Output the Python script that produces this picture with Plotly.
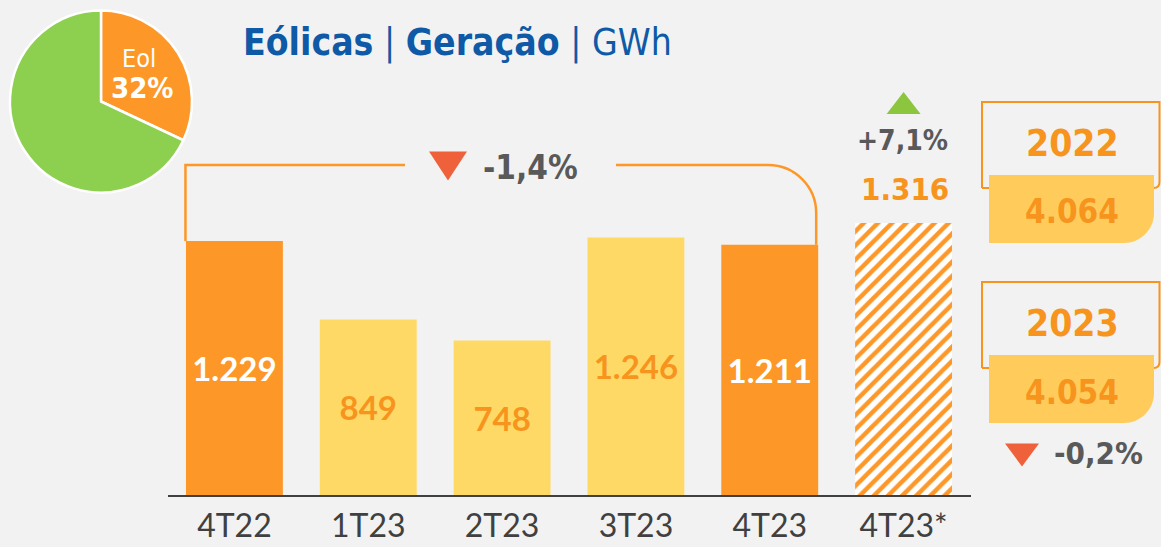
import plotly.graph_objects as go

# ---------------- data ----------------
categories = ["4T22", "1T23", "2T23", "3T23", "4T23", "4T23*"]
values = [1229, 849, 748, 1246, 1211, 1316]
years = ["2022", "2023"]
year_totals = [4064, 4054]
var_quarter = -1.4      # 4T23 vs 4T22
var_projected = 7.1     # 4T23* vs 4T22
var_year = -0.2         # 2023 vs 2022
pie_labels = ["Eol", "Outros"]
pie_values = [32, 68]

# ---------------- styling ----------------
W, H = 1161, 547
BG = "#F2F2F2"
ORANGE = "#FD9727"
ORANGE_TXT = "#F7941D"
YELLOW = "#FFD966"
BOXFILL = "#FFCC5C"
GREEN = "#8DCF4F"
GRAY_TXT = "#595959"
BLUE = "#0E5AA7"
RED = "#EF613B"
TAHOMA = "DejaVu Sans Condensed, DejaVu Sans, sans-serif"
CALIBRI = "Lato, Open Sans, sans-serif"

# plot-area geometry (pixels)
X0, X1 = 167.5, 970.5
Y_BASE = 495.0
PX_PER_UNIT = 0.2067
YMAX = Y_BASE / PX_PER_UNIT
STEP = (X1 - X0) / len(categories)
BARGAP = 0.276


def fmt(v):
    return f"{v:,}".replace(",", ".")


def pct(v):
    s = f"{v:+.1f}".replace(".", ",")
    return s + "%"


def xpx(i):
    return X0 + (i + 0.5) * STEP


def ypx(v):
    return Y_BASE - v * PX_PER_UNIT


def px(x):
    return x / W


def py(y):
    return 1 - y / H


def path(points_cmds):
    out = []
    for cmd in points_cmds:
        c = cmd[0]
        nums = cmd[1:]
        pts = []
        for k in range(0, len(nums), 2):
            pts.append(f"{px(nums[k]):.6f},{py(nums[k + 1]):.6f}")
        out.append(c + " " + " ".join(pts))
    return " ".join(out)


bar_colors = [ORANGE, YELLOW, YELLOW, YELLOW, ORANGE]
text_colors = ["white", ORANGE_TXT, ORANGE_TXT, ORANGE_TXT, "white"]

fig = go.Figure()

fig.add_trace(go.Bar(
    x=categories[:5], y=values[:5],
    marker=dict(color=bar_colors, line=dict(width=0)),
    text=[fmt(v) for v in values[:5]], textposition="inside", insidetextanchor="middle",
    textangle=0, constraintext="none",
    textfont=dict(family=CALIBRI, size=33, color=text_colors, weight="bold"),
    hoverinfo="skip", showlegend=False,
))
fig.add_trace(go.Bar(
    x=categories[5:], y=values[5:],
    marker=dict(color="white", line=dict(width=0),
                pattern=dict(shape="/", fgcolor=ORANGE, fgopacity=1,
                             size=10, solidity=0.45, fillmode="overlay")),
    hoverinfo="skip", showlegend=False,
))

fig.add_trace(go.Pie(
    labels=pie_labels, values=pie_values, sort=False, direction="clockwise",
    rotation=0, marker=dict(colors=[ORANGE, GREEN], line=dict(color="white", width=2.5)),
    textinfo="none", hoverinfo="skip", showlegend=False,
    domain=dict(x=[px(10), px(192)], y=[py(193), py(10)]),
))

shapes = []
annotations = []

# bracket from 4T22 to 4T23
LW = 2.5
bx_l = xpx(0) - STEP * (1 - BARGAP) / 2 - 0.5
bx_r = xpx(4) + STEP * (1 - BARGAP) / 2 - 2
by = 165
r = 48
shapes.append(dict(type="path", xref="paper", yref="paper",
                   path=path([("M", bx_l, ypx(values[0])), ("L", bx_l, by), ("L", 405, by)]),
                   line=dict(color=ORANGE, width=LW)))
shapes.append(dict(type="path", xref="paper", yref="paper",
                   path=path([("M", 616, by), ("L", bx_r - r, by),
                              ("C", bx_r - r * 0.45, by, bx_r, by + r * 0.45, bx_r, by + r),
                              ("L", bx_r, ypx(values[4]))]),
                   line=dict(color=ORANGE, width=LW)))


# triangles
def tri_down(cx, cy, w, h, color):
    return dict(type="path", xref="paper", yref="paper",
                path=path([("M", cx - w / 2, cy - h / 2), ("L", cx + w / 2, cy - h / 2),
                           ("L", cx, cy + h / 2)]) + " Z",
                fillcolor=color, line=dict(width=0))


def tri_up(cx, cy, w, h, color):
    return dict(type="path", xref="paper", yref="paper",
                path=path([("M", cx - w / 2, cy + h / 2), ("L", cx + w / 2, cy + h / 2),
                           ("L", cx, cy - h / 2)]) + " Z",
                fillcolor=color, line=dict(width=0))


shapes.append(tri_down(448, 166, 38, 29, RED))
shapes.append(tri_up(xpx(5), 103, 34, 22, "#8CC63F"))
shapes.append(tri_down(1022, 455, 34, 23, RED))

annotations.append(dict(x=px(530), y=py(167), xref="paper", yref="paper",
                        text=f"<b>{pct(var_quarter)}</b>", showarrow=False,
                        font=dict(family=TAHOMA, size=33, color=GRAY_TXT),
                        xanchor="center", yanchor="middle"))
annotations.append(dict(x=px(xpx(5) - 1), y=py(141), xref="paper", yref="paper",
                        text=f"<b>{pct(var_projected)}</b>", showarrow=False,
                        font=dict(family=TAHOMA, size=28, color=GRAY_TXT),
                        xanchor="center", yanchor="middle"))
annotations.append(dict(x=px(xpx(5) + 1), y=py(189), xref="paper", yref="paper",
                        text=f"<b>{fmt(values[5])}</b>", showarrow=False,
                        font=dict(family=TAHOMA, size=31, color=ORANGE_TXT),
                        xanchor="center", yanchor="middle"))

# year boxes
for k, (yr, tot) in enumerate(zip(years, year_totals)):
    top = 102 + k * 180
    ob = top + 86
    shapes.append(dict(type="path", xref="paper", yref="paper",
                       path=path([("M", 982, ob), ("L", 982, top), ("L", 1159.5, top),
                                  ("L", 1159.5, ob - 6), ("Q", 1159.5, ob, 1153.5, ob),
                                  ("L", 982, ob)]),
                       line=dict(color=ORANGE_TXT, width=2)))
    ft, fb = top + 73, top + 141
    rr = 30
    shapes.append(dict(type="path", xref="paper", yref="paper",
                       path=path([("M", 989, ft), ("L", 1154, ft), ("L", 1154, fb - rr),
                                  ("C", 1154, fb - rr * 0.45, 1154 - rr * 0.45, fb, 1154 - rr, fb),
                                  ("L", 989, fb)]) + " Z",
                       fillcolor=BOXFILL, line=dict(width=0)))
    annotations.append(dict(x=px(1072), y=py(top + 41), xref="paper", yref="paper",
                            text=f"<b>{yr}</b>", showarrow=False,
                            font=dict(family=TAHOMA, size=37, color=ORANGE_TXT),
                            xanchor="center", yanchor="middle"))
    annotations.append(dict(x=px(1072), y=py(top + 110), xref="paper", yref="paper",
                            text=f"<b>{fmt(tot)}</b>", showarrow=False,
                            font=dict(family=TAHOMA, size=33, color=ORANGE_TXT),
                            xanchor="center", yanchor="middle"))

annotations.append(dict(x=px(1098), y=py(453), xref="paper", yref="paper",
                        text=f"<b>{pct(var_year)}</b>", showarrow=False,
                        font=dict(family=TAHOMA, size=31, color=GRAY_TXT),
                        xanchor="center", yanchor="middle"))

# pie labels
annotations.append(dict(x=px(139), y=py(58), xref="paper", yref="paper",
                        text=pie_labels[0], showarrow=False,
                        font=dict(family=TAHOMA, size=25, color="white"),
                        xanchor="center", yanchor="middle"))
annotations.append(dict(x=px(142), y=py(88), xref="paper", yref="paper",
                        text=f"<b>{pie_values[0]}%</b>", showarrow=False,
                        font=dict(family=TAHOMA, size=29, color="white"),
                        xanchor="center", yanchor="middle"))

# title
annotations.append(dict(x=px(241), y=py(43), xref="paper", yref="paper",
                        text="<b>Eólicas</b> | <b>Geração</b> | GWh", showarrow=False,
                        font=dict(family=TAHOMA, size=37, color=BLUE),
                        xanchor="left", yanchor="middle"))

fig.update_layout(
    width=W, height=H, margin=dict(l=0, r=0, t=0, b=0, autoexpand=False),
    paper_bgcolor=BG, plot_bgcolor=BG,
    bargap=BARGAP, barmode="overlay",
    xaxis=dict(domain=[px(X0), px(X1)], range=[-0.5, len(categories) - 0.5],
               categoryorder="array", categoryarray=categories, automargin=False,
               showgrid=False, zeroline=False, showline=True, linecolor="#404040", linewidth=2,
               ticks="", ticklabelstandoff=2,
               tickfont=dict(family=CALIBRI, size=32, color="#404040"), fixedrange=True),
    yaxis=dict(domain=[1 - Y_BASE / H, 1], range=[0, YMAX], visible=False,
               automargin=False, fixedrange=True),
    shapes=shapes, annotations=annotations,
)

fig.write_html("out.html", config={"displayModeBar": False},
               post_script="document.body.style.margin='0';document.body.style.overflow='hidden';")
